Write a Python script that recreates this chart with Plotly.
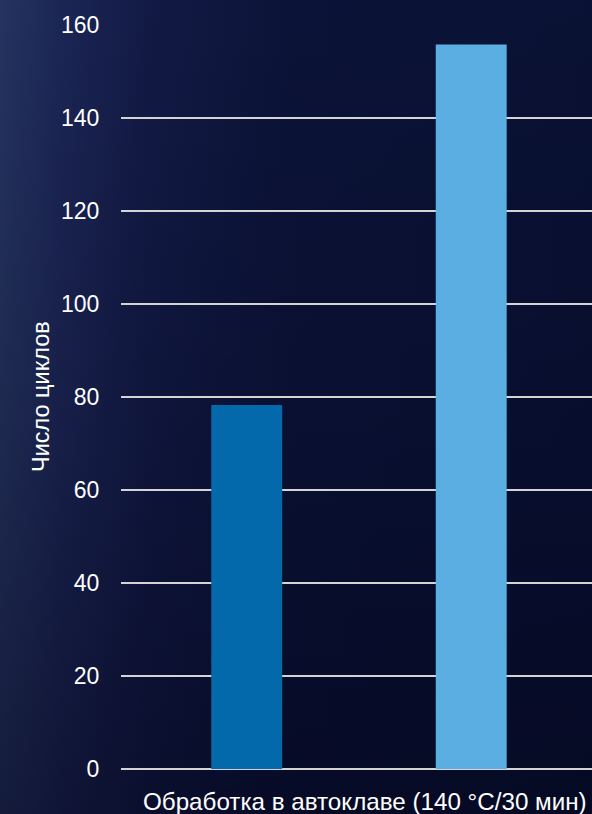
import base64
import plotly.graph_objects as go

categories = ["До", "После"]
values = [78.3, 155.8]
bar_colors = ["#0369aa", "#5aaee1"]
y_ticks = [0, 20, 40, 60, 80, 100, 120, 140, 160]
x_title = "Обработка в автоклаве (140 °C/30 мин)"
y_title = "Число циклов"

W, H = 592, 814
L, R, T, B = 121, 0, 25, 45
PW, PH = W - L - R, H - T - B

svg = """<svg xmlns='http://www.w3.org/2000/svg' width='592' height='814' preserveAspectRatio='none'>
<defs>
<linearGradient id='h' x1='0' y1='0' x2='1' y2='0'>
<stop offset='0' stop-color='#25335f'/>
<stop offset='0.1' stop-color='#1c2655'/>
<stop offset='0.25' stop-color='#121a45'/>
<stop offset='0.5' stop-color='#0b1338'/>
<stop offset='1' stop-color='#091134'/>
</linearGradient>
<linearGradient id='v' x1='0' y1='0' x2='0' y2='1'>
<stop offset='0' stop-color='#000010' stop-opacity='0'/>
<stop offset='0.55' stop-color='#000010' stop-opacity='0.2'/>
<stop offset='1' stop-color='#000010' stop-opacity='0.45'/>
</linearGradient>
</defs>
<rect width='592' height='814' fill='url(#h)'/>
<rect width='592' height='814' fill='url(#v)'/>
</svg>"""
bg_uri = "data:image/svg+xml;base64," + base64.b64encode(svg.encode()).decode()

fig = go.Figure()
fig.add_trace(go.Bar(
    x=categories, y=values, marker=dict(color=bar_colors, line=dict(width=0)),
    width=0.316, showlegend=False, hoverinfo="skip",
))

font = "Liberation Sans, Arial, sans-serif"
fig.update_layout(
    width=W, height=H,
    margin=dict(l=L, r=R, t=T, b=B),
    paper_bgcolor="#0a1236", plot_bgcolor="rgba(0,0,0,0)",
    font=dict(family=font, color="white", size=23),
    images=[dict(source=bg_uri, xref="paper", yref="paper",
                 x=-L / PW, y=1 + T / PH, sizex=W / PW, sizey=H / PH,
                 xanchor="left", yanchor="top", layer="below", sizing="stretch")],
    xaxis=dict(range=[-0.56, 1.538], showticklabels=False, showgrid=False,
               zeroline=False, showline=False, ticks=""),
    yaxis=dict(range=[0, 160], tickvals=y_ticks, ticktext=[str(t) for t in y_ticks],
               showgrid=True, gridcolor="#d4d4d4", gridwidth=2,
               zeroline=True, zerolinecolor="#d4d4d4", zerolinewidth=2,
               showline=False, ticks="outside", ticklen=16, tickcolor="rgba(0,0,0,0)",
               tickfont=dict(size=23)),
    annotations=[
        dict(text=x_title, xref="paper", yref="paper",
             x=(364.5 - L) / PW, y=-(801 - (H - B)) / PH, xanchor="center", yanchor="middle",
             showarrow=False, font=dict(size=24.2, color="white")),
        dict(text=y_title, xref="paper", yref="paper", textangle=-90,
             x=(41 - L) / PW, y=0.5, xanchor="center", yanchor="middle",
             showarrow=False, font=dict(size=23.5, color="white")),
    ],
)
fig.write_html("out.html", config={"displayModeBar": False},
               post_script="document.body.style.margin='0';document.body.style.background='#0a1236';")
